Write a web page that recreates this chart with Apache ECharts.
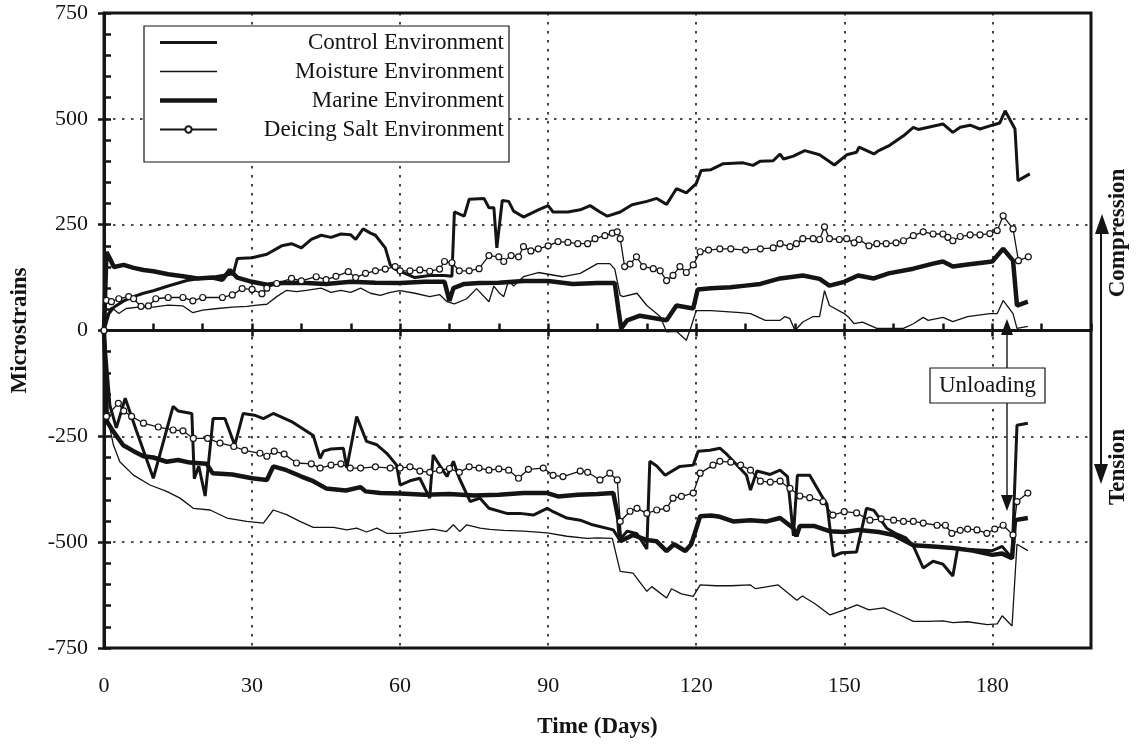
<!DOCTYPE html>
<html>
<head>
<meta charset="utf-8">
<title>Microstrains vs Time</title>
<script src="https://cdn.jsdelivr.net/npm/echarts@6.0.0/dist/echarts.min.js"></script>
<style>
  html, body { margin: 0; padding: 0; background: #fff; }
  #chart { width: 1136px; height: 744px; }
</style>
</head>
<body>
<div id="chart"></div>
<script>
// legend names, one per environment (compression + tension share a name)
const envNames = ['Control Environment', 'Moisture Environment', 'Marine Environment', 'Deicing Salt Environment'];
const xTicks = [0, 30, 60, 90, 120, 150, 180];
const yTicks = [-750, -500, -250, 0, 250, 500, 750];

// [day, microstrain]
const controlComp = [[0,0],[1,40],[2,55],[4,70],[6,80],[8,88],[10,94],[13,105],[16.8,118],[19,122],[22,126],[24,130],[26.2,134],[27,170],[30,172],[33,180],[36,200],[38,205],[40,195],[42,215],[44,225],[46,220],[48,228],[50,226],[51,215],[52.5,240],[54,230],[55,225],[57,195],[58,155],[59,145],[61,135],[63,125],[66,130],[69,130],[70.5,128],[71,280],[73,270],[74,310],[77,312],[78,290],[79,290],[79.6,195],[80.7,307],[82,305],[83,282],[85,268],[88,285],[90,295],[91,280],[94,280],[96.5,285],[98.5,295],[100.5,280],[102,270],[104.6,280],[107,297],[110,305],[112,312],[114,298],[116,335],[118,325],[120,347],[121,378],[123,380],[125.5,394],[129.5,396],[131.5,390],[133,400],[135.6,401],[137,417],[137.7,405],[139.7,412],[142,425],[145,415],[148,391],[150.5,415],[152.5,421],[153,433],[156,417],[157,425],[159,436],[162,460],[164,480],[165,475],[170,488],[172,468],[173.5,480],[175.5,485],[177.5,476],[180,485],[181.5,490],[182.6,519],[184.6,476],[185.2,354],[187.6,370]];
const controlTens = [[0,0],[1.2,-177],[2.5,-230],[4.3,-160],[6.6,-238],[10,-349],[14,-179],[15,-190],[17.8,-196],[18.3,-350],[19.2,-320],[20.5,-391],[22.1,-208],[24.5,-208],[26.5,-271],[28.2,-196],[30.5,-200],[32.3,-208],[34.3,-196],[38,-215],[42.4,-248],[43.8,-302],[44.5,-285],[46,-280],[48.5,-278],[49.2,-325],[51.2,-203],[53.2,-262],[55.3,-270],[57.3,-290],[59.3,-318],[60,-365],[62,-355],[64,-349],[66,-396],[66.7,-294],[68,-318],[69.5,-345],[70.8,-309],[72,-349],[74.2,-404],[76.2,-396],[78,-420],[81.6,-432],[84.3,-432],[87,-436],[89.8,-420],[91,-428],[93.8,-443],[96.5,-448],[99,-459],[103.2,-471],[104.5,-495],[106,-474],[108,-480],[110,-516],[110.6,-309],[112,-320],[113.7,-342],[116.7,-321],[119.4,-318],[120.4,-285],[122.8,-283],[124.8,-278],[126,-290],[130.2,-342],[131,-377],[132.3,-332],[135,-340],[137,-330],[138.5,-345],[139.7,-485],[140.5,-342],[143,-342],[145.7,-396],[146.5,-410],[147.8,-533],[149.5,-525],[152.5,-523],[154.5,-420],[156,-425],[158.6,-467],[160.5,-480],[162.5,-490],[164,-509],[166,-561],[168,-545],[170,-552],[172,-580],[173,-514],[175,-517],[180,-520],[182,-510],[184,-538],[185,-224],[187.2,-219]];

const moistureComp = [[0,0],[0.5,35],[1.5,55],[3,40],[4.5,52],[7,55],[10,55],[13,60],[16,58],[18,42],[20,48],[23,52],[26,55],[29,57],[31,60],[33,62],[35,80],[37,95],[39,92],[41,95],[44,100],[46,90],[48,95],[50,90],[52,100],[54,88],[56,83],[58,90],[60,94],[63,88],[66,80],[68,85],[69.5,68],[71,63],[73.5,75],[75.5,99],[78,68],[79,105],[80,90],[81,80],[82,118],[83,105],[85,127],[88,137],[93,127],[96.5,135],[100,158],[102.5,158],[103.5,145],[104.6,83],[105.2,80],[108,88],[110,59],[112.7,33],[114,-3],[116,-2],[118,-23],[119,10],[120,47],[123,47],[129,42],[131,40],[134,24],[137,24],[138,33],[139,28],[140,0],[141.6,20],[143.7,33],[145,33],[146,94],[147,59],[150,40],[151,30],[152,16],[153.7,20],[156.6,5],[162,5],[164,16],[166,31],[167,24],[170,31],[172,21],[175,33],[179.5,40],[181,40],[182.2,71],[184.2,40],[185,5],[187.2,10]];
const moistureTens = [[0,0],[0.5,-192],[1.9,-270],[3.2,-310],[5.9,-341],[9.3,-365],[12.7,-380],[15.4,-396],[18.1,-420],[21.5,-424],[24.9,-443],[28.9,-451],[32.3,-455],[34.3,-424],[37,-435],[39.7,-451],[42.4,-465],[46.5,-465],[49.2,-471],[51.2,-467],[53.2,-476],[55.3,-467],[57.3,-479],[60,-479],[62.7,-475],[66.7,-469],[69.4,-475],[70.8,-459],[72.1,-475],[73.5,-459],[76.2,-467],[78.2,-470],[81,-472],[85,-474],[89.8,-478],[93.8,-486],[97.9,-491],[100,-490],[103,-491],[104.6,-569],[107.2,-573],[110,-616],[111,-605],[114,-632],[115,-610],[117,-622],[119.4,-628],[120.8,-601],[124,-603],[127,-603],[131,-601],[132,-610],[133,-608],[136.6,-601],[140.4,-637],[141.5,-627],[144,-645],[147.1,-672],[150,-660],[152.6,-648],[155,-660],[158,-655],[161.3,-672],[164,-687],[167,-687],[170,-686],[172,-690],[175,-688],[179,-695],[181,-693],[182,-674],[184,-698],[185,-505],[187.2,-520]];

const marineComp = [[0,0],[0.5,185],[1.2,170],[2,150],[4,155],[6,148],[8,143],[10,140],[13,133],[16,128],[19,123],[22,125],[24,120],[25.5,143],[27,125],[30,115],[33,108],[36,112],[40,113],[45,110],[50,115],[55,113],[60,112],[65,115],[69,115],[70,70],[70.8,100],[73,110],[76,112],[80,113],[85,117],[90,117],[95,110],[100,112],[103.5,112],[104.2,52],[104.8,5],[106,24],[108.6,35],[111,30],[114,24],[116,59],[119.4,52],[120.3,97],[123,100],[127,102],[130,106],[133,110],[137,123],[141.6,130],[145,122],[147,106],[150,115],[152.8,130],[156,123],[159,135],[164,146],[168,158],[170,163],[172,151],[175,156],[180,163],[182.2,193],[184.2,165],[185,59],[187.2,68]];
const marineTens = [[0,0],[0.6,-215],[1.9,-239],[3.9,-271],[6,-285],[8,-297],[10,-300],[12.7,-310],[15,-306],[17.4,-312],[20.8,-315],[22,-337],[26,-340],[30,-349],[33,-353],[34.3,-321],[37,-330],[40,-345],[42.4,-356],[45,-373],[49,-378],[52,-370],[53,-380],[56,-384],[60,-385],[65,-388],[70,-386],[75,-390],[80,-388],[85,-384],[89.8,-384],[92,-392],[96,-388],[100,-386],[103.2,-384],[104.2,-443],[104.6,-498],[107.2,-483],[110,-495],[112,-498],[114,-521],[115.5,-505],[117.8,-521],[119,-505],[120.8,-439],[123,-437],[124.8,-440],[127.5,-451],[131,-448],[134.3,-451],[137,-443],[139.7,-467],[140.3,-486],[141,-462],[144,-462],[147,-474],[150,-476],[153,-471],[157,-476],[160,-483],[164,-507],[168,-510],[172,-514],[176,-520],[180,-530],[182,-527],[184,-538],[184.6,-448],[187.2,-443]];

const deicingComp = [[0,0],[0.5,71],[1.5,68],[3,75],[5,80],[6,75],[7.5,57],[9,58],[10.5,75],[13,78],[16,78],[18,70],[20,78],[24,78],[26,84],[28,99],[30,97],[32,87],[33,100],[35,111],[38,123],[40,117],[43,127],[45,120],[47,128],[49.5,139],[51,125],[53,135],[55,141],[57,145],[59,151],[60,141],[62,141],[64,143],[66,140],[68,145],[69,163],[70.5,160],[72,141],[74,141],[76,146],[78,177],[80,174],[81,163],[82.5,177],[84,174],[85,198],[86.5,188],[88,193],[90,200],[92,210],[94,208],[96,205],[98,205],[99.5,217],[101.5,224],[103,230],[104,233],[104.6,217],[105.5,151],[106.6,157],[107.9,174],[109.3,151],[111.3,146],[112.7,141],[114,118],[115.3,130],[116.7,151],[118,137],[119.4,155],[120.8,186],[122.5,190],[124.8,193],[127,193],[130,190],[133,193],[135.6,195],[137,205],[139,198],[140.3,205],[141.6,217],[143.7,217],[145,215],[146,245],[147,217],[149,215],[150.5,217],[152,207],[153,215],[155,200],[156.6,205],[158.5,205],[160.5,207],[162,212],[164,224],[166,233],[168,228],[170,228],[171,220],[172,212],[173.5,222],[175.5,226],[177.5,226],[179.5,229],[181,236],[182.2,271],[184.2,240],[185.3,165],[187.3,174]];
const deicingTens = [[0,0],[0.5,-203],[2.9,-172],[4,-190],[5.6,-203],[8,-219],[11,-228],[14,-235],[16,-237],[18.1,-255],[21,-255],[23.5,-266],[26.3,-274],[28.5,-283],[31.6,-290],[33,-297],[34.5,-285],[36.5,-292],[39,-313],[42,-315],[43.8,-325],[46,-318],[48,-315],[49.9,-325],[52,-325],[55,-322],[58,-325],[60,-325],[62,-322],[64,-332],[66,-335],[68,-330],[70,-326],[72,-335],[74,-322],[76,-325],[78,-330],[80,-327],[82,-330],[84,-349],[86,-328],[89,-325],[91,-342],[93,-345],[96.5,-332],[98,-335],[100.5,-353],[102.5,-337],[104,-353],[104.6,-451],[106.6,-427],[108,-420],[110,-432],[112,-424],[114,-420],[115.3,-396],[117,-392],[119.4,-384],[120.8,-337],[123.4,-318],[124.8,-309],[127,-311],[129,-318],[131,-330],[133,-356],[135,-358],[137,-356],[139,-373],[141,-391],[143,-395],[145.7,-404],[147.7,-436],[150,-428],[152.5,-431],[155.2,-448],[157.5,-445],[160,-448],[162,-451],[164,-451],[166,-455],[168.8,-460],[170.5,-460],[171.8,-479],[173.5,-472],[175,-469],[176.9,-471],[178.9,-479],[180.5,-469],[182.2,-460],[184.2,-483],[185,-404],[187.2,-384]];

const FONT = "'Liberation Serif', 'Times New Roman', serif";
const INK = '#141414';

const chart = echarts.init(document.getElementById('chart'), null, { renderer: 'canvas' });

function plain(name, data, width) {
    return {
        name: name, type: 'line', data: data,
        symbol: 'none', showSymbol: false, smooth: false,
        lineStyle: { color: INK, width: width },
        itemStyle: { color: INK },
        emphasis: { disabled: true }
    };
}
function circles(name, data) {
    return {
        name: name, type: 'line', data: data,
        symbol: 'circle', symbolSize: 6, showSymbol: true,
        lineStyle: { color: INK, width: 1.3 },
        itemStyle: { color: '#fff', borderColor: INK, borderWidth: 1.2 },
        emphasis: { disabled: true }
    };
}
// legend swatch: a plain bar as thick as the series line
function barIcon(h) {
    return 'path://M0,0H57V' + h + 'H0Z';
}

const tickFont = { fontFamily: FONT, fontSize: 22, color: INK };
const gridDots = { show: true, lineStyle: { color: INK, width: 1.6, type: [2.5, 6.5] } };

const option = {
    animation: false,
    backgroundColor: '#fff',
    grid: { left: 104, right: 45, top: 13, bottom: 96, show: true, borderColor: INK, borderWidth: 3, backgroundColor: 'transparent' },
    legend: {
        data: [
            { name: envNames[0], icon: barIcon(3) },
            { name: envNames[1], icon: barIcon(1.3) },
            { name: envNames[2], icon: barIcon(4.5) },
            { name: envNames[3] }
        ],
        orient: 'vertical',
        left: 144, top: 26,
        padding: [5, 5, 21, 15],
        itemWidth: 57, itemHeight: 8, itemGap: 6,
        symbolKeepAspect: true,
        selectedMode: false,
        borderColor: INK, borderWidth: 1.2, backgroundColor: '#fff',
        formatter: function (name) { return '{n|' + name + '}'; },
        textStyle: {
            rich: { n: { width: 282, align: 'right', fontFamily: FONT, fontSize: 23, lineHeight: 24, color: INK } }
        }
    },
    xAxis: [{
        type: 'value', min: 0, max: 200, interval: 30,
        name: 'Time (Days)', nameLocation: 'middle', nameGap: 68,
        nameTextStyle: { fontFamily: FONT, fontSize: 23, fontWeight: 'bold', color: INK },
        axisLine: { show: true, lineStyle: { color: INK, width: 3 } },
        axisTick: { show: true, inside: false, length: 6, lineStyle: { color: INK, width: 2.5 } },
        axisLabel: Object.assign({ margin: 27, showMaxLabel: false,
            formatter: function (v) { return xTicks.indexOf(v) >= 0 ? String(v) : ''; } }, tickFont),
        splitLine: gridDots
    }, {
        type: 'value', min: 0, max: 200, interval: 10, position: 'bottom',
        axisLine: { show: false },
        axisTick: { show: true, inside: true, length: 7, lineStyle: { color: INK, width: 2.5 } },
        axisLabel: { show: false }, splitLine: { show: false }
    }],
    yAxis: [{
        type: 'value', min: -750, max: 750, interval: 250,
        name: 'Microstrains', nameLocation: 'middle', nameGap: 72, nameRotate: 90,
        nameTextStyle: { fontFamily: FONT, fontSize: 23, fontWeight: 'bold', color: INK },
        axisLine: { show: true, lineStyle: { color: INK, width: 3 } },
        axisTick: { show: true, inside: false, length: 6, lineStyle: { color: INK, width: 2.5 } },
        axisLabel: Object.assign({ margin: 16,
            formatter: function (v) { return yTicks.indexOf(v) >= 0 ? String(v) : ''; } }, tickFont),
        splitLine: gridDots
    }, {
        type: 'value', min: -750, max: 750, interval: 50, position: 'left',
        axisLine: { show: false },
        axisTick: { show: true, inside: true, length: 7, lineStyle: { color: INK, width: 2.5 } },
        axisLabel: { show: false }, splitLine: { show: false }
    }],
    series: [
        plain(envNames[0], controlComp, 3),
        plain(envNames[0], controlTens, 3),
        plain(envNames[1], moistureComp, 1.3),
        plain(envNames[1], moistureTens, 1.3),
        plain(envNames[2], marineComp, 4.5),
        plain(envNames[2], marineTens, 4.5),
        circles(envNames[3], deicingComp),
        circles(envNames[3], deicingTens)
    ],
    graphic: [
        // unloading note with arrows
        { type: 'line', shape: { x1: 1007, y1: 368, x2: 1007, y2: 330 }, style: { stroke: INK, lineWidth: 1.4 }, z: 50 },
        { type: 'polygon', shape: { points: [[1007, 319], [1001, 335], [1013, 335]] }, style: { fill: INK }, z: 50 },
        { type: 'line', shape: { x1: 1007, y1: 403, x2: 1007, y2: 500 }, style: { stroke: INK, lineWidth: 1.4 }, z: 50 },
        { type: 'polygon', shape: { points: [[1007, 511], [1001, 495], [1013, 495]] }, style: { fill: INK }, z: 50 },
        { type: 'rect', shape: { x: 930, y: 368, width: 115, height: 35 }, style: { fill: '#fff', stroke: INK, lineWidth: 1.2 }, z: 50 },
        { type: 'text', x: 987.5, y: 386, z: 51,
          style: { text: 'Unloading', fontFamily: FONT, fontSize: 23, fill: INK, align: 'center', verticalAlign: 'middle' } },
        // compression / tension arrow on the right
        { type: 'line', shape: { x1: 1101, y1: 228, x2: 1101, y2: 472 }, style: { stroke: INK, lineWidth: 2 }, z: 50 },
        { type: 'polygon', shape: { points: [[1102, 214], [1095, 234], [1109, 234]] }, style: { fill: INK }, z: 50 },
        { type: 'polygon', shape: { points: [[1101, 484], [1094, 464], [1108, 464]] }, style: { fill: INK }, z: 50 },
        { type: 'text', x: 1118, y: 233, rotation: Math.PI / 2, z: 50,
          style: { text: 'Compression', fontFamily: FONT, fontSize: 23, fontWeight: 'bold', fill: INK, align: 'center', verticalAlign: 'middle' } },
        { type: 'text', x: 1118, y: 467, rotation: Math.PI / 2, z: 50,
          style: { text: 'Tension', fontFamily: FONT, fontSize: 23, fontWeight: 'bold', fill: INK, align: 'center', verticalAlign: 'middle' } }
    ]
};

chart.setOption(option);
</script>
</body>
</html>
